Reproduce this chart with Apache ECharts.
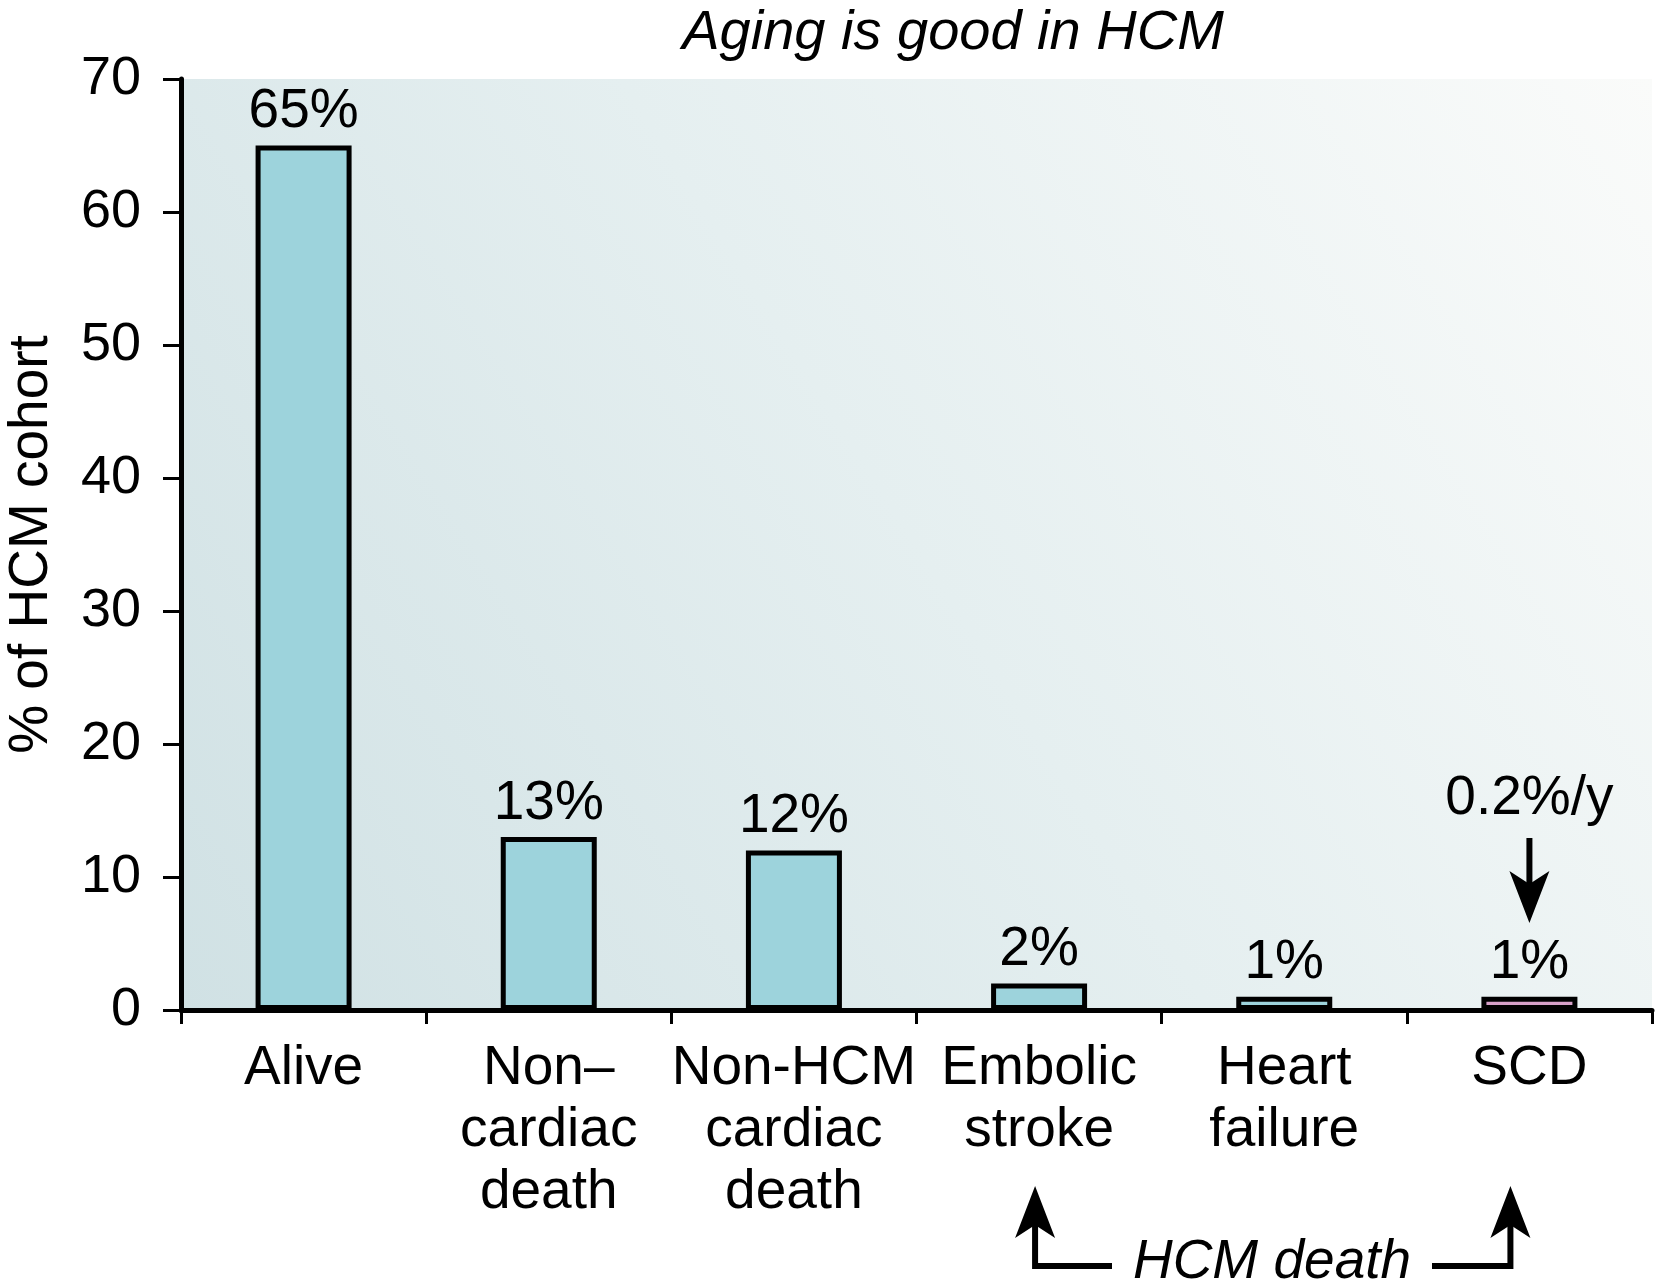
<!DOCTYPE html>
<html>
<head>
<meta charset="utf-8">
<script src="https://cdn.jsdelivr.net/npm/echarts@6/dist/echarts.min.js"></script>
<style>
html,body{margin:0;padding:0;background:#fff;}
#chart{width:1655px;height:1288px;}
</style>
</head>
<body>
<div id="chart"></div>
<script>
// ---- data ----
const categories = ['Alive', 'Non–\ncardiac\ndeath', 'Non-HCM\ncardiac\ndeath', 'Embolic\nstroke', 'Heart\nfailure', 'SCD'];
const values = [65, 13, 12, 2, 1, 1];
const barColors = ['#9dd3dc', '#9dd3dc', '#9dd3dc', '#9dd3dc', '#9dd3dc', '#d7a0c8'];
const yTicks = [0, 10, 20, 30, 40, 50, 60, 70];
const titleText = 'Aging is good in HCM';
const yAxisName = '% of HCM cohort';
const scdNote = '0.2%/y';
const groupNote = 'HCM death';

const FONT = '"Liberation Sans", Arial, Helvetica, sans-serif';
const FS = 55;

const chart = echarts.init(document.getElementById('chart'), null, {renderer: 'canvas'});

const option = {
  animation: false,
  backgroundColor: '#ffffff',
  title: {
    text: titleText,
    left: 948, top: 0, textAlign: 'center',
    textStyle: {fontFamily: FONT, fontSize: 56, fontStyle: 'italic', fontWeight: 'normal', color: '#000'}
  },
  grid: {
    left: 181, right: 3, top: 79, bottom: 278,
    containLabel: false,
    outerBoundsMode: 'none',
    show: true, borderWidth: 0,
    backgroundColor: new echarts.graphic.LinearGradient(0, 1, 1, 0, [
      {offset: 0, color: '#d0e1e4'},
      {offset: 0.5, color: '#e5eff0'},
      {offset: 1, color: '#fafbfa'}
    ])
  },
  xAxis: {
    type: 'category',
    data: categories,
    axisLine: {lineStyle: {color: '#000', width: 5}},
    axisTick: {show: true, length: 14, lineStyle: {color: '#000', width: 3}},
    axisLabel: {
      interval: 0, margin: 28,
      fontFamily: FONT, fontSize: FS, color: '#000', lineHeight: 62
    }
  },
  yAxis: {
    type: 'value',
    min: 0, max: 70, interval: 10,
    name: yAxisName,
    nameLocation: 'middle',
    nameGap: 122,
    nameRotate: 90,
    nameTextStyle: {fontFamily: FONT, fontSize: FS, color: '#000'},
    splitLine: {show: false},
    axisLine: {show: true, lineStyle: {color: '#000', width: 5}},
    axisTick: {show: true, length: 18, lineStyle: {color: '#000', width: 3}},
    axisLabel: {
      margin: 40, fontFamily: FONT, fontSize: 54, color: '#000',
      formatter: v => yTicks.includes(v) ? String(v) : ''
    }
  },
  series: [{
    type: 'bar',
    barWidth: 96,
    data: values.map((v, i) => ({value: v, itemStyle: {color: barColors[i]}})),
    itemStyle: {borderColor: '#000', borderWidth: 5},
    label: {
      show: true, position: 'top', distance: 6,
      formatter: '{c}%',
      fontFamily: FONT, fontSize: FS, color: '#000'
    }
  }]
};
chart.setOption(option);

// annotations positioned via axis conversion
const xScd = chart.convertToPixel({xAxisIndex: 0}, categories[5]);
const xEmb = chart.convertToPixel({xAxisIndex: 0}, categories[3]);

const LW = 6;
function arrowHead(x, tipY, dir) { // dir: 1 = pointing down, -1 = pointing up
  const h = 52, w = 20;
  return {
    type: 'polygon',
    shape: {points: [[x, tipY], [x - w, tipY - dir * h], [x, tipY - dir * h * 0.75], [x + w, tipY - dir * h]]},
    style: {fill: '#000'}
  };
}

const graphics = [
  // 0.2%/y note above SCD
  {type: 'text', x: xScd, y: 826, style: {text: scdNote, font: 'normal ' + FS + 'px ' + FONT, fill: '#000', textAlign: 'center', textVerticalAlign: 'bottom'}},
  {type: 'line', shape: {x1: xScd, y1: 838, x2: xScd, y2: 890}, style: {stroke: '#000', lineWidth: LW}},
  arrowHead(xScd, 923, 1),
  // HCM death bracket
  {type: 'text', x: 1272, y: 1290, style: {text: groupNote, font: 'italic ' + FS + 'px ' + FONT, fill: '#000', textAlign: 'center', textVerticalAlign: 'bottom'}},
  {type: 'polyline', shape: {points: [[xEmb - 4, 1220], [xEmb - 4, 1266], [1112, 1266]]}, style: {stroke: '#000', lineWidth: LW, fill: null}},
  arrowHead(xEmb - 4, 1186, -1),
  {type: 'polyline', shape: {points: [[1432, 1266], [xScd - 19, 1266], [xScd - 19, 1220]]}, style: {stroke: '#000', lineWidth: LW, fill: null}},
  arrowHead(xScd - 19, 1186, -1)
];
chart.setOption({graphic: graphics});
</script>
</body>
</html>
